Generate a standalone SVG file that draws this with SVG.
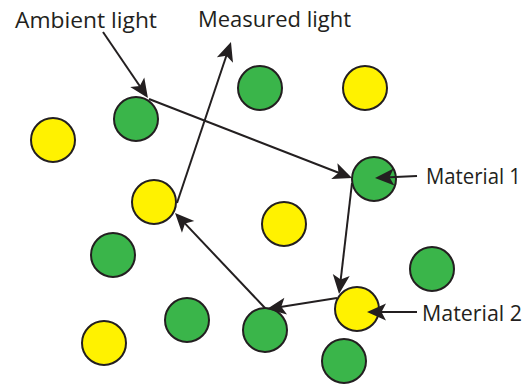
<svg xmlns="http://www.w3.org/2000/svg" width="527" height="385" viewBox="0 0 527 385">
<style>
.g{fill:#3AB54A;stroke:#231F20;stroke-width:2}
.y{fill:#FFF200;stroke:#231F20;stroke-width:2}
.c{fill:none;stroke:#231F20;stroke-width:2;marker-end:url(#ah)}
text{font-family:"Open Sans","Liberation Sans",sans-serif;font-size:22px;fill:#231F20}
</style>
<defs>
<marker id="ah" markerUnits="userSpaceOnUse" orient="auto" refX="0" refY="0" markerWidth="40" markerHeight="40" viewBox="-20 -20 40 40" overflow="visible">
<path d="M4,0 L-15,-8.5 L-10.5,0 L-15,8.5 Z" fill="#231F20"/>
</marker>
</defs>
<rect width="527" height="385" fill="#fff"/>
<g id="nodes">
<g id="y1"><circle class="y" cx="53" cy="140" r="22"/></g>
<g id="g1"><circle class="g" cx="136" cy="119" r="22"/></g>
<g id="g2"><circle class="g" cx="260" cy="88" r="22"/></g>
<g id="y2"><circle class="y" cx="365" cy="88" r="22"/></g>
<g id="y3"><circle class="y" cx="154" cy="202" r="22"/></g>
<g id="y4"><circle class="y" cx="284" cy="224" r="22"/></g>
<g id="material1"><circle class="g" cx="374" cy="179" r="22"/></g>
<g id="g3"><circle class="g" cx="113" cy="255" r="22"/></g>
<g id="g4"><circle class="g" cx="432" cy="269" r="22"/></g>
<g id="g5"><circle class="g" cx="187" cy="320" r="22"/></g>
<g id="y5"><circle class="y" cx="104" cy="343" r="22"/></g>
<g id="g6"><circle class="g" cx="265" cy="330" r="22"/></g>
<g id="material2"><circle class="y" cx="357" cy="309" r="22"/></g>
<g id="g7"><circle class="g" cx="344" cy="361" r="22"/></g>
</g>
<g id="labels">
<g id="ambient-label"><text x="15" y="28" textLength="142" lengthAdjust="spacingAndGlyphs">Ambient light</text></g>
<g id="measured-label"><text x="198" y="27" textLength="153" lengthAdjust="spacingAndGlyphs">Measured light</text></g>
<g id="material1-label"><text x="426" y="184" textLength="95" lengthAdjust="spacingAndGlyphs">Material 1</text></g>
<g id="material2-label"><text x="422" y="321" textLength="100" lengthAdjust="spacingAndGlyphs">Material 2</text></g>
</g>
<g id="connectors">
<path class="c" d="M103,32 L145.7,94.7"/>
<path class="c" d="M149,99 L348.3,176.5"/>
<path class="c" d="M352,183 L339.5,290"/>
<path class="c" d="M337,298 L270.9,308.4"/>
<path class="c" d="M265,308 L177.8,215.9"/>
<path class="c" d="M177,203 L229.7,45.8"/>
<path class="c" d="M417,176 L379,177.8"/>
<path class="c" d="M417,312 L371,312"/>
</g>
</svg>
